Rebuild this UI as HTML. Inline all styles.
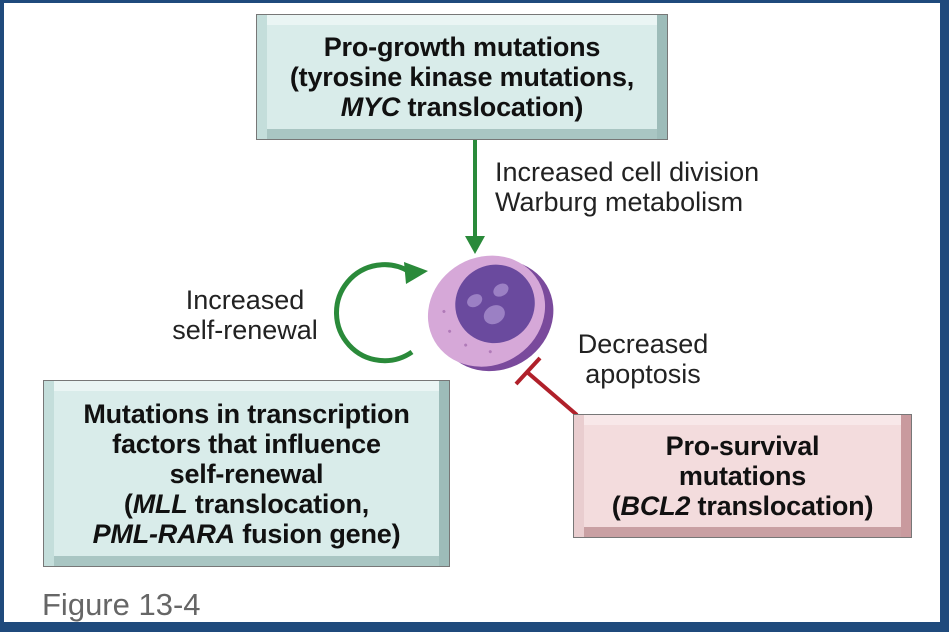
<!DOCTYPE html>
<html><head><style>
body{margin:0;width:949px;height:632px;overflow:hidden;background:#fff;font-family:"Liberation Sans",Arial,sans-serif}
.frame{position:absolute;left:0;top:0;width:949px;height:632px;box-sizing:border-box;border-style:solid;border-color:#1f4a7c;border-width:3px 9px 10px 4px}
.box{position:absolute;box-sizing:border-box;border:1px solid #777;display:flex;align-items:center;justify-content:center;text-align:center;font-weight:bold;font-size:27px;line-height:30px;color:#111;letter-spacing:-0.2px}
.teal{background:#d9ecea;box-shadow:inset 10px 0 0 #c4dedb,inset -10px 0 0 #9dbcb9,inset 0 10px 0 #eaf5f4,inset 0 -10px 0 #a9c6c3}
.pink{background:#f3dcdd;box-shadow:inset 10px 0 0 #e9cdcf,inset -10px 0 0 #c99a9e,inset 0 10px 0 #f8e8e9,inset 0 -10px 0 #c9a0a3}
.lbl{position:absolute;font-size:27px;color:#222;line-height:30px}
</style></head><body>
<div class="frame"></div>
<svg width="949" height="632" style="position:absolute;left:0;top:0">
<line x1="475" y1="140" x2="475" y2="238" stroke="#2a8a3a" stroke-width="4"/>
<polygon points="465,236 485,236 475,254" fill="#2a8a3a"/>
<path d="M412,352 A48,48 0 1 1 410,272" fill="none" stroke="#2a8a3a" stroke-width="5"/>
<polygon points="404,262 428,271 406,284" fill="#2a8a3a"/>
<line x1="577" y1="415" x2="527" y2="372" stroke="#b0202a" stroke-width="4"/>
<line x1="516" y1="384" x2="540" y2="358" stroke="#b0202a" stroke-width="4"/>
<g transform="rotate(-30 487 312)">
<ellipse cx="492" cy="319" rx="60" ry="54" fill="#7a4a9c"/>
<ellipse cx="487" cy="311" rx="60" ry="54" fill="#d6a8d8"/>
<ellipse cx="498" cy="309" rx="40" ry="39" fill="#6a4a9e"/>
<ellipse cx="492" cy="318" rx="11" ry="9" fill="#9b80c4"/>
<ellipse cx="482" cy="296" rx="8" ry="6" fill="#9b80c4"/>
<ellipse cx="510" cy="300" rx="8" ry="6" fill="#9b80c4"/>
<circle cx="450" cy="290" r="1.5" fill="#b07ab8"/><circle cx="445" cy="310" r="1.5" fill="#b07ab8"/><circle cx="452" cy="330" r="1.5" fill="#b07ab8"/><circle cx="470" cy="348" r="1.5" fill="#b07ab8"/>
</g>
</svg>
<div class="box teal" style="left:256px;top:14px;width:412px;height:126px"><div>Pro-growth mutations<br>(tyrosine kinase mutations,<br><i>MYC</i> translocation)</div></div>
<div class="box teal" style="left:43px;top:380px;width:407px;height:187px"><div>Mutations in transcription<br>factors that influence<br>self-renewal<br>(<i>MLL</i> translocation,<br><i>PML-RARA</i> fusion gene)</div></div>
<div class="box pink" style="left:573px;top:414px;width:339px;height:124px"><div>Pro-survival<br>mutations<br>(<i>BCL2</i> translocation)</div></div>
<div class="lbl" style="left:495px;top:157px">Increased cell division<br>Warburg metabolism</div>
<div class="lbl" style="left:160px;top:285px;text-align:center;width:170px">Increased<br>self-renewal</div>
<div class="lbl" style="left:558px;top:329px;text-align:center;width:170px">Decreased<br>apoptosis</div>
<div class="lbl" style="left:42px;top:590px;font-size:31px;color:#666">Figure 13-4</div>
</body></html>
